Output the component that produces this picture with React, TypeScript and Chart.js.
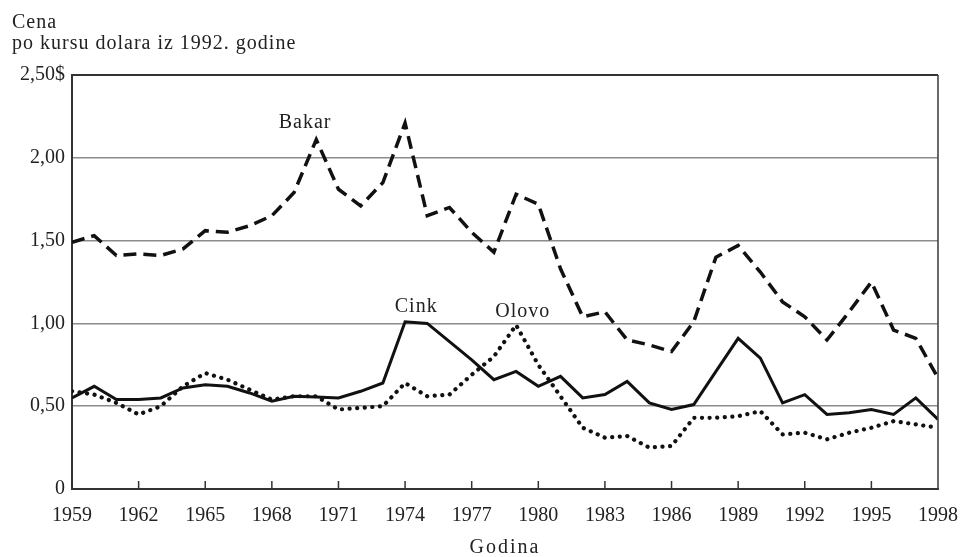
import React, { useEffect, useRef } from "react";
import { Chart, registerables } from "chart.js";

Chart.register(...registerables);

const years = [
  1959, 1960, 1961, 1962, 1963, 1964, 1965, 1966, 1967, 1968,
  1969, 1970, 1971, 1972, 1973, 1974, 1975, 1976, 1977, 1978,
  1979, 1980, 1981, 1982, 1983, 1984, 1985, 1986, 1987, 1988,
  1989, 1990, 1991, 1992, 1993, 1994, 1995, 1996, 1997, 1998,
];

const bakar = [
  1.49, 1.53, 1.41, 1.42, 1.41, 1.45, 1.56, 1.55, 1.59, 1.65,
  1.79, 2.11, 1.81, 1.71, 1.85, 2.21, 1.65, 1.70, 1.55, 1.43,
  1.78, 1.72, 1.33, 1.04, 1.07, 0.90, 0.87, 0.83, 1.01, 1.40,
  1.47, 1.31, 1.13, 1.04, 0.90, 1.07, 1.25, 0.96, 0.91, 0.67,
];

const cink = [
  0.55, 0.62, 0.54, 0.54, 0.55, 0.61, 0.63, 0.62, 0.58, 0.53,
  0.56, 0.555, 0.55, 0.59, 0.64, 1.01, 1.0, 0.89, 0.78, 0.66,
  0.71, 0.62, 0.68, 0.55, 0.57, 0.65, 0.52, 0.48, 0.51, 0.71,
  0.91, 0.79, 0.52, 0.57, 0.45, 0.46, 0.48, 0.45, 0.55, 0.42,
];

const olovo = [
  0.59, 0.57, 0.52, 0.45, 0.5, 0.62, 0.7, 0.66, 0.6, 0.54,
  0.56, 0.56, 0.48, 0.49, 0.5, 0.64, 0.56, 0.57, 0.69, 0.8,
  0.99, 0.75, 0.56, 0.37, 0.31, 0.32, 0.25, 0.26, 0.43, 0.43,
  0.44, 0.47, 0.33, 0.34, 0.3, 0.34, 0.37, 0.41, 0.39, 0.37,
];

const titleLines = ["Cena", "po kursu dolara iz 1992. godine"];
const xTitle = "Godina";
const seriesLabels = [
  { text: "Bakar", year: 1969.5, value: 2.21 },
  { text: "Cink", year: 1974.5, value: 1.1 },
  { text: "Olovo", year: 1979.3, value: 1.07 },
];

const FONT = "'Liberation Serif', 'DejaVu Serif', serif";
const INK = "#222";

const toPoints = (vals: number[]) => vals.map((v, i) => ({ x: years[i], y: v }));

const decor = {
  id: "decor",
  afterDatasetsDraw(chart: any) {
    const { ctx, chartArea, scales } = chart;
    const xs = scales.x;
    const ys = scales.y;
    ctx.save();
    // right border
    ctx.strokeStyle = "#444";
    ctx.lineWidth = 1.6;
    ctx.beginPath();
    ctx.moveTo(chartArea.right, chartArea.top);
    ctx.lineTo(chartArea.right, chartArea.bottom);
    ctx.stroke();
    // inner tick marks on x axis
    ctx.strokeStyle = "#333";
    ctx.lineWidth = 1.5;
    xs.ticks.forEach((t: any) => {
      if (t.value <= xs.min || t.value >= xs.max) return;
      const px = xs.getPixelForValue(t.value);
      ctx.beginPath();
      ctx.moveTo(px, chartArea.bottom);
      ctx.lineTo(px, chartArea.bottom - 8);
      ctx.stroke();
    });
    ctx.fillStyle = INK;
    ctx.font = `20px ${FONT}`;
    ctx.textBaseline = "middle";
    (ctx as any).letterSpacing = "1px";
    // title
    ctx.textAlign = "left";
    ctx.fillText(titleLines[0], 12, 23);
    ctx.fillText(titleLines[1], 12, 44);
    // series labels
    ctx.textAlign = "center";
    seriesLabels.forEach((l) => {
      ctx.fillText(l.text, xs.getPixelForValue(l.year), ys.getPixelForValue(l.value));
    });
    // x title
    (ctx as any).letterSpacing = "2px";
    ctx.fillText(xTitle, (chartArea.left + chartArea.right) / 2, 548);
    ctx.restore();
  },
};

export default function App() {
  const ref = useRef<HTMLCanvasElement | null>(null);
  useEffect(() => {
    document.body.style.margin = "0";
    const canvas = ref.current;
    if (!canvas) return;
    const chart = new Chart(canvas, {
      type: "line",
      data: {
        datasets: [
          {
            label: "Bakar",
            data: toPoints(bakar),
            borderColor: "#111",
            borderWidth: 3.5,
            borderDash: [13, 7],
            pointRadius: 0,
            tension: 0,
            fill: false,
          },
          {
            label: "Cink",
            data: toPoints(cink),
            borderColor: "#111",
            borderWidth: 3,
            pointRadius: 0,
            tension: 0,
            fill: false,
          },
          {
            label: "Olovo",
            data: toPoints(olovo),
            borderColor: "#111",
            borderWidth: 4.2,
            borderDash: [0.1, 7.5],
            borderCapStyle: "round",
            pointRadius: 0,
            tension: 0,
            fill: false,
          },
        ],
      },
      options: {
        animation: false,
        responsive: false,
        maintainAspectRatio: false,
        layout: { padding: { top: 75, right: 24, left: 0, bottom: 0 } },
        plugins: {
          legend: { display: false },
          tooltip: { enabled: false },
          title: { display: false },
        },
        scales: {
          x: {
            type: "linear",
            min: 1959,
            max: 1998,
            afterFit: (s: any) => {
              s.height = 68;
              s.paddingLeft = 0;
              s.paddingRight = 0;
            },
            ticks: {
              stepSize: 3,
              autoSkip: false,
              maxRotation: 0,
              padding: 15,
              color: INK,
              font: { family: FONT, size: 20 },
              callback: (v: any) => String(v),
            },
            grid: { display: false, drawTicks: false },
            border: { display: true, color: "#333", width: 2 },
          },
          y: {
            min: 0,
            max: 2.5,
            afterFit: (s: any) => {
              s.width = 72;
              s.paddingTop = 0;
              s.paddingBottom = 0;
            },
            ticks: {
              stepSize: 0.5,
              padding: 7,
              color: INK,
              font: { family: FONT, size: 20 },
              callback: (v: any) =>
                v === 2.5 ? "2,50$" : v === 0 ? "0" : Number(v).toFixed(2).replace(".", ","),
            },
            grid: {
              drawTicks: false,
              color: (c: any) => (c.tick && c.tick.value === 2.5 ? "#333" : "#8c8c8c"),
              lineWidth: (c: any) => (c.tick && c.tick.value === 2.5 ? 2 : 1.5),
            },
            border: { display: true, color: "#333", width: 2 },
          },
        },
      },
      plugins: [decor],
    });
    return () => chart.destroy();
  }, []);
  return (
    <div style={{ width: 962, height: 557, background: "#fff" }}>
      <canvas ref={ref} width={962} height={557} style={{ display: "block" }} />
    </div>
  );
}
